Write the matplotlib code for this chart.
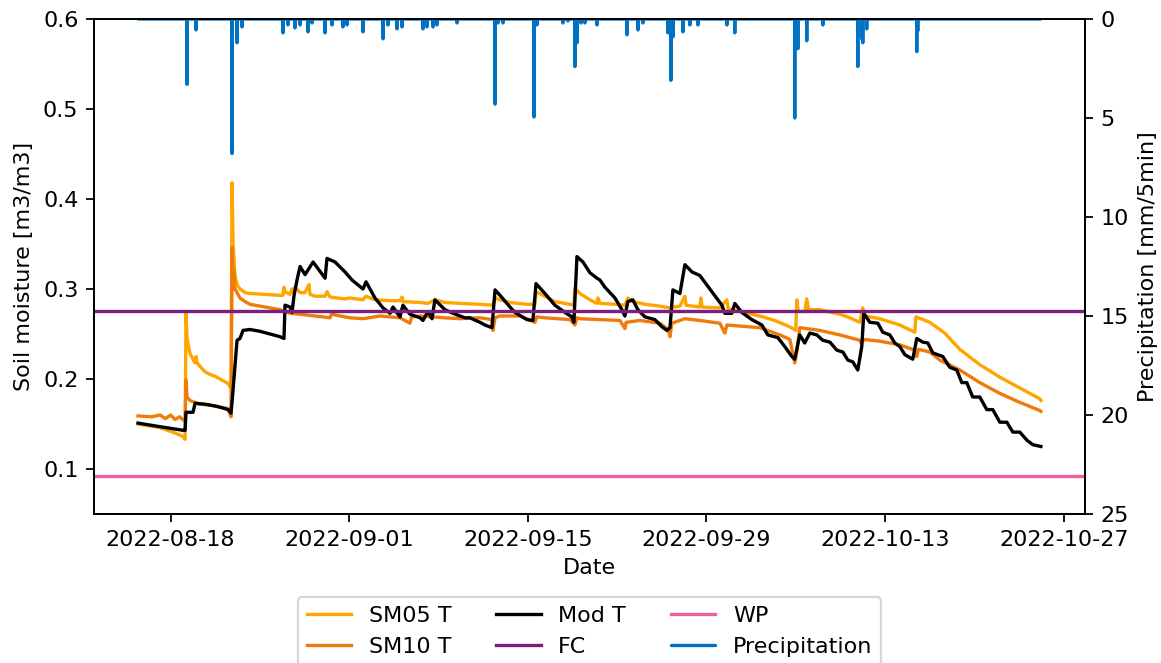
import numpy as np
import pandas as pd
import matplotlib
matplotlib.use("Agg")
import matplotlib.pyplot as plt

START = pd.Timestamp("2022-08-15 00:00")

# ---- Soil moisture series: (day offset from START, value) ----
sm05_days = [0.45, 2.18, 3.35, 3.98, 4.14, 4.21, 4.29, 4.53, 4.76, 4.92, 5.00, 5.08, 5.31, 5.70, 6.10,
             6.49, 6.88, 7.51, 7.74, 7.82, 7.90, 8.05, 8.21, 8.44, 8.84, 9.23, 10.40, 11.58, 11.81, 11.89,
             11.97, 12.36, 12.52, 12.68, 12.75, 13.15, 13.54, 13.85, 13.93, 14.32, 15.11, 15.26, 15.50,
             16.67, 17.06, 18.08, 18.32, 19.02, 20.20, 20.98, 21.14, 21.21, 22.55, 23.17, 23.72, 24.50,
             25.68, 27.25, 28.27, 28.43, 28.82, 29.60, 30.93, 31.56, 31.64, 32.34, 33.12, 34.30, 34.61,
             34.69, 35.08, 35.87, 36.42, 36.50, 36.65, 37.83, 38.61, 38.84, 39.23, 40.18, 41.35, 42.14,
             42.92, 43.31, 43.40, 44.48, 44.56, 44.65, 46.05, 46.60, 46.70, 47.61, 49.18, 50.36, 51.53,
             52.00, 52.08, 52.20, 52.70, 52.86, 53.00, 53.88, 55.45, 56.23, 57.02, 57.25, 57.40, 58.58,
             60.15, 61.33, 61.41, 61.60, 62.50, 63.68, 64.85, 66.42, 67.99, 69.56, 71.13, 71.21]
sm05_vals = [0.150, 0.146, 0.140, 0.136, 0.133, 0.275, 0.245, 0.228, 0.222, 0.218, 0.225, 0.218, 0.214, 0.208, 0.205,
             0.203, 0.200, 0.195, 0.190, 0.418, 0.350, 0.315, 0.305, 0.300, 0.296, 0.295, 0.294, 0.293, 0.293, 0.302,
             0.297, 0.294, 0.300, 0.296, 0.302, 0.296, 0.296, 0.305, 0.294, 0.292, 0.292, 0.297, 0.291,
             0.289, 0.290, 0.288, 0.292, 0.288, 0.287, 0.287, 0.291, 0.286, 0.285, 0.284, 0.288, 0.285,
             0.284, 0.283, 0.282, 0.290, 0.288, 0.285, 0.283, 0.283, 0.297, 0.292, 0.286, 0.283, 0.282,
             0.301, 0.295, 0.288, 0.284, 0.290, 0.284, 0.283, 0.282, 0.290, 0.286, 0.283, 0.281, 0.279,
             0.281, 0.292, 0.282, 0.280, 0.290, 0.280, 0.279, 0.288, 0.278, 0.275, 0.270, 0.265, 0.258,
             0.254, 0.288, 0.275, 0.275, 0.289, 0.277, 0.277, 0.272, 0.268, 0.263, 0.279, 0.270, 0.267,
             0.260, 0.252, 0.269, 0.268, 0.263, 0.251, 0.233, 0.216, 0.202, 0.190, 0.178, 0.176]

sm10_days = [0.45, 1.50, 2.18, 2.60, 3.00, 3.35, 3.70, 4.14, 4.21, 4.29, 4.53, 5.31, 6.10, 6.88, 7.51,
             7.74, 7.82, 7.90, 7.95, 8.05, 8.21, 8.44, 8.84, 9.23, 10.40, 11.58, 11.97, 12.36, 13.15,
             14.32, 15.50, 15.60, 17.06, 18.08, 19.41, 20.98, 21.76, 21.90, 22.55, 24.50, 25.68, 27.25,
             28.19, 28.27, 28.43, 28.82, 30.38, 31.56, 31.70, 32.34, 34.30, 34.69, 34.85, 35.08, 38.22,
             38.61, 38.70, 39.78, 41.35, 42.00, 42.14, 42.29, 43.31, 44.48, 46.05, 46.44, 46.60, 49.18,
             50.75, 51.53, 51.92, 52.08, 52.31, 53.88, 55.45, 57.02, 57.17, 57.33, 58.58, 60.15, 61.33,
             61.48, 61.60, 62.50, 63.29, 64.85, 66.42, 67.99, 69.56, 71.13, 71.21]
sm10_vals = [0.159, 0.158, 0.160, 0.156, 0.160, 0.155, 0.158, 0.153, 0.199, 0.180, 0.176, 0.172, 0.171, 0.169, 0.167,
             0.158, 0.346, 0.300, 0.320, 0.300, 0.296, 0.290, 0.286, 0.283, 0.280, 0.277, 0.275, 0.273, 0.272,
             0.270, 0.268, 0.272, 0.268, 0.267, 0.270, 0.268, 0.262, 0.269, 0.270, 0.268, 0.267, 0.268,
             0.266, 0.254, 0.268, 0.270, 0.270, 0.263, 0.269, 0.268, 0.266, 0.260, 0.268, 0.267, 0.265,
             0.256, 0.263, 0.265, 0.262, 0.255, 0.247, 0.262, 0.267, 0.265, 0.262, 0.251, 0.260, 0.257,
             0.249, 0.244, 0.218, 0.230, 0.257, 0.254, 0.249, 0.243, 0.239, 0.244, 0.242, 0.238, 0.232,
             0.225, 0.233, 0.230, 0.221, 0.210, 0.196, 0.184, 0.174, 0.165, 0.164]

mod_days = [0.45, 2.18, 3.98, 4.14, 4.21, 4.76, 4.92, 5.70, 6.49, 7.04, 7.51, 7.74, 7.90, 8.21, 8.44,
            8.68, 9.23, 10.01, 10.80, 11.58, 11.89, 11.97, 12.36, 12.52, 12.68, 12.91, 13.15, 13.54, 13.85,
            14.17, 15.11, 15.26, 15.89, 16.67, 17.22, 18.08, 18.32, 19.02, 19.65, 20.20, 20.43, 20.98,
            21.21, 21.76, 22.55, 22.78, 23.17, 23.49, 23.72, 24.50, 25.13, 26.07, 26.46, 27.25, 27.64,
            28.19, 28.43, 28.82, 29.60, 29.99, 30.93, 31.40, 31.64, 32.34, 33.12, 33.91, 34.45, 34.61,
            34.85, 35.32, 35.87, 36.42, 36.65, 37.04, 37.83, 38.37, 38.61, 38.84, 39.23, 39.63, 40.18,
            40.96, 41.51, 41.90, 42.14, 42.37, 42.92, 43.31, 43.86, 44.48, 45.42, 46.21, 46.44, 46.99,
            47.22, 47.77, 48.55, 49.34, 49.81, 50.59, 51.14, 51.69, 51.92, 52.31, 52.70, 53.10, 53.65,
            54.12, 54.67, 55.22, 55.69, 56.08, 56.47, 56.86, 57.17, 57.33, 57.80, 58.43, 58.82, 59.37,
            59.76, 60.15, 60.55, 61.17, 61.48, 61.95, 62.35, 62.74, 63.52, 64.07, 64.62, 65.01, 65.40,
            65.87, 66.42, 66.97, 67.44, 67.99, 68.54, 69.01, 69.56, 70.11, 70.58, 71.21]
mod_vals = [0.151, 0.147, 0.143, 0.143, 0.163, 0.163, 0.173, 0.172, 0.170, 0.168, 0.166, 0.162, 0.188, 0.243, 0.245,
            0.254, 0.255, 0.253, 0.250, 0.247, 0.245, 0.282, 0.280, 0.274, 0.293, 0.310, 0.325, 0.316, 0.323,
            0.330, 0.312, 0.334, 0.330, 0.319, 0.310, 0.300, 0.308, 0.290, 0.279, 0.273, 0.280, 0.269,
            0.282, 0.272, 0.268, 0.265, 0.275, 0.267, 0.288, 0.277, 0.273, 0.268, 0.268, 0.263, 0.260,
            0.257, 0.299, 0.293, 0.280, 0.274, 0.266, 0.265, 0.306, 0.295, 0.282, 0.274, 0.269, 0.263,
            0.336, 0.330, 0.318, 0.312, 0.310, 0.302, 0.290, 0.277, 0.270, 0.286, 0.288, 0.277, 0.269,
            0.266, 0.258, 0.254, 0.257, 0.299, 0.295, 0.327, 0.319, 0.315, 0.297, 0.282, 0.273, 0.273,
            0.284, 0.274, 0.266, 0.260, 0.249, 0.246, 0.236, 0.225, 0.222, 0.249, 0.240, 0.251, 0.249,
            0.243, 0.241, 0.232, 0.230, 0.221, 0.219, 0.210, 0.236, 0.273, 0.263, 0.262, 0.252, 0.249,
            0.240, 0.236, 0.227, 0.222, 0.245, 0.241, 0.240, 0.229, 0.225, 0.213, 0.210, 0.196, 0.196,
            0.180, 0.180, 0.166, 0.166, 0.152, 0.152, 0.141, 0.141, 0.132, 0.127, 0.125]

# ---- Precipitation events: (day offset, mm/5min) ----
rain_days = [4.29, 5.00, 7.82, 8.21, 8.60, 11.81, 12.20, 12.75, 13.15, 13.77, 14.09, 15.11, 15.66, 16.51,
             16.83, 18.08, 19.65, 20.04, 20.75, 21.14, 22.78, 23.10, 23.57, 23.88, 25.45, 28.43, 28.66,
             29.05, 31.48, 31.71, 33.75, 34.14, 34.69, 34.85, 35.16, 35.47, 36.42, 38.77, 39.63, 40.02,
             41.98, 42.21, 42.37, 43.15, 43.70, 44.33, 46.60, 47.22, 51.92, 52.16, 52.86, 54.12, 56.86,
             57.17, 57.25, 57.56, 61.48, 61.56]
rain_mm = [3.3, 0.55, 6.8, 1.2, 0.4, 0.7, 0.3, 0.45, 0.3, 0.65, 0.2, 0.7, 0.3, 0.4,
           0.3, 0.65, 1.0, 0.3, 0.5, 0.4, 0.5, 0.4, 0.4, 0.3, 0.2, 4.3, 0.2,
           0.2, 4.95, 0.3, 0.2, 0.1, 2.4, 1.2, 0.2, 0.2, 0.3, 0.8, 0.55, 0.2,
           0.7, 3.1, 0.9, 0.65, 0.3, 0.3, 0.3, 0.7, 5.0, 1.5, 1.1, 0.3, 2.4,
           1.0, 1.2, 0.5, 1.65, 0.6]
rain_start, rain_end = 0.45, 71.21

FC = 0.276
WP = 0.092

def to_time(days):
    return START + pd.to_timedelta(np.asarray(days), unit="D")

# precipitation polyline: zero baseline with 5-min spikes
half = 5 / (24 * 60)
p_t = [rain_start]
p_v = [0.0]
for d, mm in zip(rain_days, rain_mm):
    p_t += [d - half, d, d + half]
    p_v += [0.0, mm, 0.0]
p_t.append(rain_end)
p_v.append(0.0)

fig = plt.figure(figsize=(1161 / 160, 663 / 160), dpi=160)
ax = fig.add_axes([94 / 1161, 1 - 514 / 663, (1085 - 94) / 1161, (514 - 19) / 663])
ax2 = ax.twinx()

c05 = "#FFA500"
c10 = "#EF7B0A"
cfc = "#7B1F7E"
cwp = "#EE5FA0"
cpr = "#0072C3"

h1, = ax.plot(to_time(sm05_days), sm05_vals, color=c05, lw=1.5, label="SM05 T")
h2, = ax.plot(to_time(sm10_days), sm10_vals, color=c10, lw=1.5, label="SM10 T")
h3, = ax.plot(to_time(mod_days), mod_vals, color="black", lw=1.5, label="Mod T")
h4 = ax.axhline(FC, color=cfc, lw=1.5, label="FC")
h5 = ax.axhline(WP, color=cwp, lw=1.5, label="WP")
h6, = ax2.plot(to_time(p_t), p_v, color=cpr, lw=1.5, label="Precipitation",
               solid_joinstyle="round", solid_capstyle="round")

ax.set_ylim(0.05, 0.6)
ax.set_yticks([0.1, 0.2, 0.3, 0.4, 0.5, 0.6])
ax2.set_ylim(25, 0)
ax2.set_yticks([0, 5, 10, 15, 20, 25])

import matplotlib.dates as mdates
ax.set_xlim(pd.Timestamp("2022-08-12 00:00"), pd.Timestamp("2022-10-28 16:00"))
ax.xaxis.set_major_locator(mdates.DayLocator(bymonthday=None, interval=14))
ticks = pd.to_datetime(["2022-08-18", "2022-09-01", "2022-09-15", "2022-09-29", "2022-10-13", "2022-10-27"])
ax.set_xticks(ticks)
ax.xaxis.set_major_formatter(mdates.DateFormatter("%Y-%m-%d"))

ax.set_xlabel("Date")
ax.set_ylabel("Soil moisture [m3/m3]")
ax2.set_ylabel("Precipitation [mm/5min]")

ax.legend(handles=[h1, h2, h3, h4, h5, h6], loc="upper center", bbox_to_anchor=(0.5, -0.168),
          borderaxespad=0, ncol=3)

fig.savefig("out.png", dpi=160)
